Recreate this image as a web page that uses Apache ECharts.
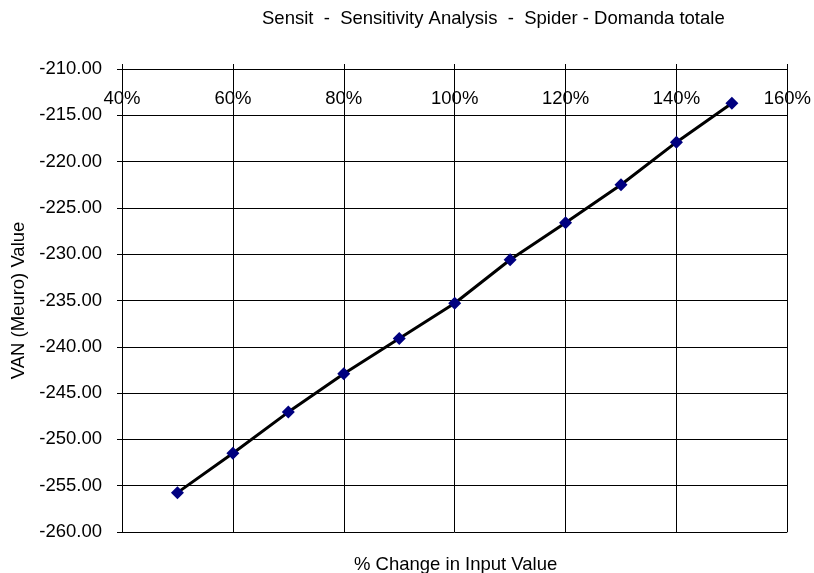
<!DOCTYPE html>
<html>
<head>
<meta charset="utf-8">
<script src="https://cdn.jsdelivr.net/npm/echarts@6/dist/echarts.min.js"></script>
<style>
  html, body { margin: 0; padding: 0; background: #fff; }
  #main { width: 814px; height: 573px; }
</style>
</head>
<body>
<div id="main"></div>
<script>
const pctChange = [50, 60, 70, 80, 90, 100, 110, 120, 130, 140, 150];
const vanValues = [-255.75, -251.5, -247.05, -242.9, -239.1, -235.3, -230.6, -226.6, -222.5, -217.9, -213.7];

const font = "'Liberation Sans', Arial, sans-serif";
const fs = 18.5;

const chart = echarts.init(document.getElementById('main'), null, { renderer: 'canvas' });

const option = {
  animation: false,
  title: [{
    text: 'Sensit  -  Sensitivity Analysis  -  Spider - Domanda totale',
    left: 257,
    top: 4,
    textStyle: { fontFamily: font, fontSize: fs, fontWeight: 'normal', color: '#000' }
  }, {
    text: '% Change in Input Value',
    left: 349,
    top: 550,
    textStyle: { fontFamily: font, fontSize: fs, fontWeight: 'normal', color: '#000' }
  }],
  grid: {
    left: 122,
    right: 26,
    top: 69,
    bottom: 41
  },
  xAxis: {
    type: 'value',
    position: 'top',
    min: 40,
    max: 160,
    interval: 20,
    axisLine: { show: true, lineStyle: { color: '#000', width: 1 } },
    axisTick: { show: true, length: 5, lineStyle: { color: '#000' } },
    axisLabel: {
      inside: true,
      margin: 20,
      formatter: '{value}%',
      color: '#000',
      fontFamily: font,
      fontSize: fs
    },
    splitLine: { show: true, lineStyle: { color: '#000', width: 1 } }
  },
  yAxis: {
    type: 'value',
    min: -260,
    max: -210,
    interval: 5,
    name: 'VAN (Meuro) Value',
    nameLocation: 'middle',
    nameGap: 89,
    nameTextStyle: { fontFamily: font, fontSize: fs, color: '#000' },
    axisLine: { show: true, lineStyle: { color: '#000', width: 1 } },
    axisTick: { show: true, length: 5, lineStyle: { color: '#000' } },
    axisLabel: {
      margin: 20,
      formatter: function (v) { return v.toFixed(2); },
      color: '#000',
      fontFamily: font,
      fontSize: fs
    },
    splitLine: { show: true, lineStyle: { color: '#000', width: 1 } }
  },
  series: [{
    type: 'line',
    data: pctChange.map(function (p, i) { return [p, vanValues[i]]; }),
    symbol: 'diamond',
    symbolSize: 13,
    lineStyle: { color: '#000', width: 3 },
    itemStyle: { color: '#000080' }
  }]
};

chart.setOption(option);
</script>
</body>
</html>
